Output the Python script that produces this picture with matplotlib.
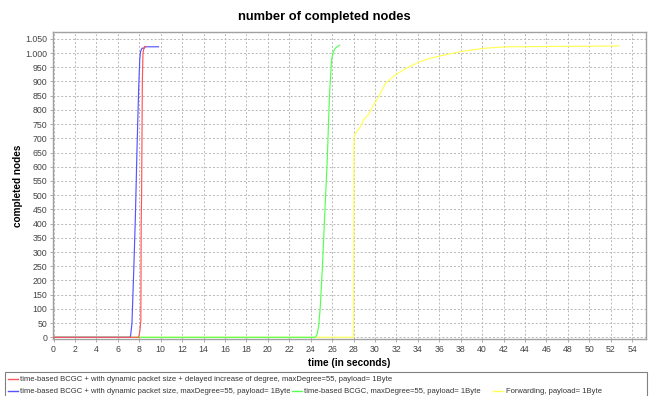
import matplotlib
matplotlib.use("Agg")
import matplotlib.pyplot as plt
from matplotlib.lines import Line2D
from matplotlib.ticker import FuncFormatter, MultipleLocator

plt.rcParams["font.family"] = ["Liberation Sans", "DejaVu Sans"]

# completion curves: time in seconds, completed node count
red_t = [0, 7.95, 8.05, 8.15, 8.18, 8.22, 8.29, 8.35, 8.45, 8.5, 8.6]
red_v = [0, 0, 20, 60, 400, 500, 900, 1000, 1020, 1023, 1023]

blue_t = [0, 7.15, 7.2, 7.32, 7.5, 7.64, 7.79, 7.95, 8.05, 8.12, 8.26, 8.48, 8.55, 9.8]
blue_v = [0, 0, 8, 49, 250, 425, 660, 880, 980, 1005, 1017, 1017, 1022, 1022]

green_t = [0, 24.45, 24.6, 24.75, 24.9, 25.1, 25.3, 25.55, 25.75, 25.95, 26.1, 26.3, 26.5, 26.7]
green_v = [0, 0, 10, 40, 108, 250, 420, 625, 847, 976, 1003, 1017, 1023, 1027]

yellow_t = [0, 28.0, 28.04, 28.2, 28.65, 28.97, 29.4, 29.9, 30.2, 31.0, 31.9, 33.0,
            34.1, 35.0, 36.1, 38.0, 40.2, 42.4, 46.0, 50.0, 52.8]
yellow_v = [0, 0, 700, 718, 741, 767, 783, 820, 835, 894, 923, 948,
            968, 980, 990, 1005, 1017, 1022, 1023, 1024, 1025]

series_labels = [
    "time-based BCGC + with dynamic packet size + delayed increase of degree, maxDegree=55, payload= 1Byte",
    "time-based BCGC + with dynamic packet size, maxDegree=55, payload= 1Byte",
    "time-based BCGC, maxDegree=55, payload= 1Byte",
    "Forwarding, payload= 1Byte",
]
series_colors = ["#ff5555", "#5555ff", "#55ff55", "#ffff55"]

W, H = 649, 396
fig = plt.figure(figsize=(W / 100, H / 100), dpi=100)
fig.patch.set_facecolor("white")

left, right, top, bottom = 53, 646, 32, 339
ax = fig.add_axes([left / W, 1 - bottom / H, (right - left) / W, (bottom - top) / H])
ax.set_facecolor("white")

series = [(red_t, red_v), (blue_t, blue_v), (green_t, green_v), (yellow_t, yellow_v)]
# first series on top
for i, ((t, v), c) in enumerate(zip(series, series_colors)):
    ax.plot(t, v, color=c, lw=0.85, zorder=10 - i)

ax.set_xlim(-0.05, 55.3)
ax.set_ylim(-6, 1074)
ax.xaxis.set_major_locator(MultipleLocator(2))
ax.yaxis.set_major_locator(MultipleLocator(50))
ax.yaxis.set_major_formatter(FuncFormatter(lambda v, p: f"{int(v):,}".replace(",", ".")))

ax.grid(True, color="#b8b8b8", linestyle=(0, (2, 2)), linewidth=0.7)
ax.set_axisbelow(True)
for s in ax.spines.values():
    s.set_color("#a0a0a0")
    s.set_linewidth(1.0)

ax.tick_params(axis="both", labelsize=6.3, colors="#444444", length=2, width=0.6,
               pad=2)
ax.tick_params(axis="both", color="#a0a0a0")

ax.set_xlabel("time (in seconds)", fontsize=7.2, fontweight="bold", labelpad=3)
ax.set_ylabel("completed nodes", fontsize=7.2, fontweight="bold", labelpad=1.5)

fig.text(0.5, 1 - 17 / H, "number of completed nodes", ha="center", va="center",
         fontsize=9.3, fontweight="bold")

# legend box along the bottom
fig.add_artist(plt.Rectangle((5 / W, -0.01), (647 - 5) / W, (H - 372.3) / H + 0.01,
                             transform=fig.transFigure, fill=False,
                             edgecolor="#808080", lw=0.8))


def legend_item(x, y, color, text):
    fig.add_artist(Line2D([x / W, (x + 10) / W], [1 - (y - 0.8) / H, 1 - (y - 0.8) / H],
                          transform=fig.transFigure, color=color, lw=1.0))
    fig.text((x + 12.5) / W, 1 - y / H, text, ha="left", va="center",
             fontsize=5.5, color="#333333")


legend_item(7.5, 379.5, series_colors[0], series_labels[0])
legend_item(7.5, 391.5, series_colors[1], series_labels[1])
legend_item(292, 391.5, series_colors[2], series_labels[2])
legend_item(493, 391.5, series_colors[3], series_labels[3])

fig.savefig("out.png", dpi=100, facecolor="white")
